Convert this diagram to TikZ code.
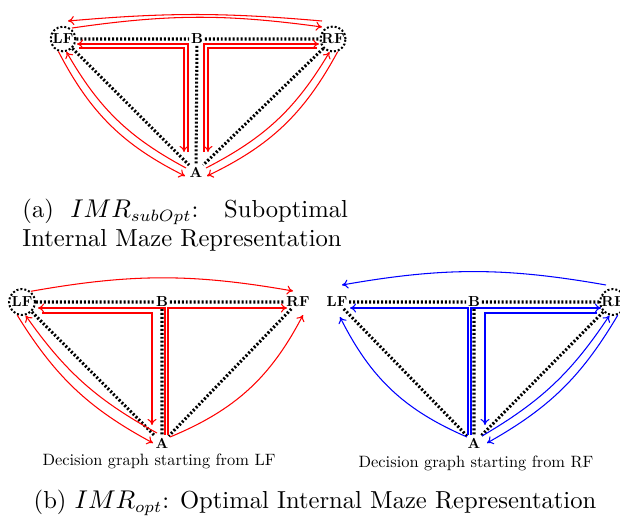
\documentclass[tikz,border=0pt]{standalone}
\usepackage{graphicx}
\usetikzlibrary{arrows.meta,calc}
\newcommand{\mz}[1]{\scalebox{0.62}{\bfseries #1}}
\newcommand{\dg}[1]{\scalebox{0.7}{#1}}

\begin{document}
\begin{tikzpicture}[
  x=0.015cm, y=-0.015cm,
  spot/.style={inner sep=0.6pt},
  home/.style={spot, circle, draw, line width=0.85pt, dash pattern=on 0.85pt off 0.85pt, minimum size=0.37cm, inner sep=0pt},
  maze/.style={line width=1.3pt, dash pattern=on 0.85pt off 0.85pt},
  ra/.style={red, line width=0.45pt, -{To[length=2.6pt,width=3.8pt]}},
  ba/.style={ra, blue},
  capt/.style={font=\fontsize{10.5}{12.4}\selectfont, inner sep=0pt},
  gcap/.style={inner sep=0pt}]
\useasboundingbox (0,0) rectangle (620,523);
% (a) suboptimal
\node[home] (LFa) at (63,39) {\mz{LF}};
\node[spot] (Ba) at (197,39) {\mz{B}};
\node[home] (RFa) at (333,39) {\mz{RF}};
\node[spot] (Aa) at (196,172) {\mz{A}};
\draw[maze] (LFa) -- (Ba) -- (RFa) (Ba) -- (Aa) (LFa) -- (Aa) (RFa) -- (Aa);
\draw[ra] ($(RFa)+(-11,-18)$) to[bend right=5] ($(LFa)+(5,-18)$);
\draw[ra] ($(LFa)+(9,-11)$) to[bend left=8] ($(RFa)+(-11,-12)$);
\draw[ra] ($(Aa)+(-8,-20)$) |- ($(LFa)+(14,5)$);
\draw[ra] ($(LFa)+(16,9)$) -| ($(Aa)+(-12,-20)$);
\draw[ra] ($(Aa)+(8,-20)$) |- ($(RFa)+(-14,5)$);
\draw[ra] ($(RFa)+(-16,9)$) -| ($(Aa)+(12,-20)$);
\draw[ra] (LFa.250) to[bend right=18] ($(Aa)+(-11,4)$);
\draw[ra] ($(Aa)+(-10,-4)$) to[bend left=16] (LFa.285);
\draw[ra] (RFa.290) to[bend left=18] ($(Aa)+(11,4)$);
\draw[ra] ($(Aa)+(10,-4)$) to[bend right=16] (RFa.255);
\node[capt, anchor=north west, align=left] (capa) at (22,199) {(a)\hspace{7pt}$IMR_{subOpt}$:\hspace{11pt}Suboptimal\\Internal Maze Representation};
% (b) optimal, from LF
\node[home, minimum size=0.39cm] (LFb) at (22,302) {\mz{LF}};
\node[spot] (Bb) at (162,302) {\mz{B}};
\node[spot] (RFb) at (298,302) {\mz{RF}};
\node[spot] (Ab) at (162,443) {\mz{A}};
\draw[maze] (LFb) -- (Bb) -- (RFb) (Bb) -- (Ab) (LFb) -- (Ab) (RFb) -- (Ab);
\draw[ra] (LFb.50) to[bend left=10] ($(RFb)+(-5,-11)$);
\draw[ra] ($(Ab)+(3,-8)$) |- ($(LFb)+(16,6)$);
\draw[ra] ($(Ab)+(6,-8)$) |- ($(RFb)+(-11,6)$);
\draw[ra] ($(LFb)+(20,11)$) -| ($(Ab)+(-10,-18)$);
\draw[ra] (LFb.250) to[bend right=15] ($(Ab)+(-9,0)$);
\draw[ra] ($(Ab)+(-5,-10)$) to[bend left=13] (LFb.285);
\draw[ra] ($(Ab)+(8,-6)$) to[bend right=20] ($(RFb)+(5,13)$);
\node[gcap] (gl) at (159,461) {\dg{Decision graph starting from LF}};
% (b) optimal, from RF
\node[spot] (LFc) at (337,302) {\mz{LF}};
\node[spot] (Bc) at (474,302) {\mz{B}};
\node[home, minimum size=0.39cm] (RFc) at (613,302) {\mz{RF}};
\node[spot] (Ac) at (474,443) {\mz{A}};
\draw[maze] (LFc) -- (Bc) -- (RFc) (Bc) -- (Ac) (LFc) -- (Ac) (RFc) -- (Ac);
\draw[ba] ($(RFc)+(-7,-17)$) to[bend right=10] ($(LFc)+(5,-17)$);
\draw[ba] ($(Ac)+(-6,-8)$) |- ($(LFc)+(13,6)$);
\draw[ba] ($(Ac)+(-3,-8)$) |- ($(RFc)+(-12,6)$);
\draw[ba] ($(RFc)+(-16,11)$) -| ($(Ac)+(11,-18)$);
\draw[ba] (RFc.290) to[bend left=15] ($(Ac)+(13,0)$);
\draw[ba] ($(Ac)+(8,-7)$) to[bend right=13] (RFc.255);
\draw[ba] ($(Ac)+(-7,-6)$) to[bend left=20] ($(LFc)+(3,15)$);
\node[gcap] (gr) at (476,463) {\dg{Decision graph starting from RF}};
\node[capt] (capb) at (315,503) {(b) $IMR_{opt}$: Optimal Internal Maze Representation};
\end{tikzpicture}
\end{document}
